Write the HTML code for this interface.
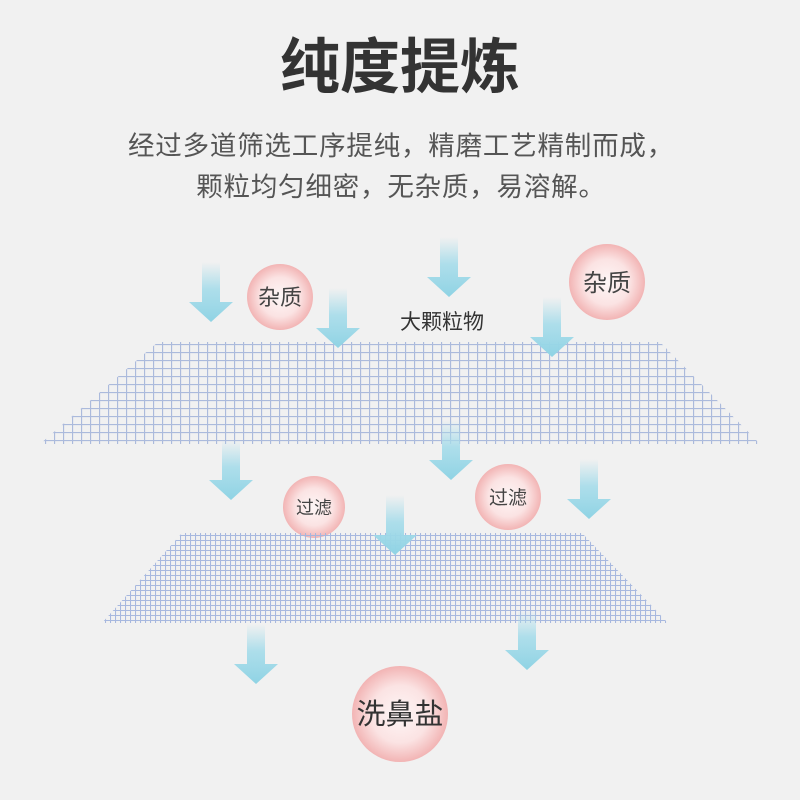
<!DOCTYPE html>
<html><head><meta charset="utf-8"><style>
html,body{margin:0;padding:0;background:#f1f1f1;}
svg{display:block}
text{font-family:"Liberation Sans","Noto Sans CJK SC",sans-serif;}
</style></head><body>
<svg width="800" height="800" viewBox="0 0 800 800" xmlns="http://www.w3.org/2000/svg">
<defs>
<linearGradient id="ag" x1="0" y1="0" x2="0" y2="1">
<stop offset="0" stop-color="#a6dcea" stop-opacity="0"/>
<stop offset="0.45" stop-color="#a6dcea" stop-opacity="0.9"/>
<stop offset="1" stop-color="#8fd3e4"/>
</linearGradient>
<radialGradient id="cg" cx="0.5" cy="0.5" r="0.5">
<stop offset="0" stop-color="#fdf6f6"/>
<stop offset="0.6" stop-color="#fbe3e3"/>
<stop offset="1" stop-color="#f2b4b4"/>
</radialGradient>
<pattern id="p1" width="9" height="8" patternUnits="userSpaceOnUse">
<path d="M0 0.5H9M0.5 0V8" stroke="#9fb0d8" stroke-width="1.3" fill="none"/>
</pattern>
<pattern id="p2" width="5" height="5" patternUnits="userSpaceOnUse">
<path d="M0 0.5H5M0.5 0V5" stroke="#a3b5de" stroke-width="1.1" fill="none"/>
</pattern>
<g id="arr"><path d="M-9 -60H9V-20H22L0 0L-22 -20H-9Z" fill="url(#ag)"/></g>
</defs>
<rect width="800" height="800" fill="#f1f1f1"/>
<text x="400" y="88" text-anchor="middle" font-size="60" font-weight="bold" fill="#333">纯度提炼</text>
<text x="401" y="155" text-anchor="middle" font-size="26.5" letter-spacing="0.8" fill="#555">经过多道筛选工序提纯，精磨工艺精制而成，</text>
<text x="401" y="196" text-anchor="middle" font-size="26.5" letter-spacing="0.8" fill="#555">颗粒均匀细密，无杂质，易溶解。</text>

<use href="#arr" x="211" y="322"/>
<use href="#arr" x="449" y="297"/>
<circle cx="280" cy="297" r="33" fill="url(#cg)"/>
<text x="280" y="305" text-anchor="middle" font-size="22" fill="#444">杂质</text>
<circle cx="607" cy="282" r="38" fill="url(#cg)"/>
<text x="607" y="291" text-anchor="middle" font-size="24" fill="#444">杂质</text>
<text x="442" y="329" text-anchor="middle" font-size="21" fill="#333">大颗粒物</text>

<polygon points="158,342 660,342 760,444 40,444" fill="url(#p1)" opacity="0.85"/>
<use href="#arr" x="338" y="348"/>
<use href="#arr" x="552" y="357"/>

<use href="#arr" x="231" y="500"/>
<use href="#arr" x="451" y="480"/>
<use href="#arr" x="589" y="519"/>
<circle cx="314" cy="507" r="31" fill="url(#cg)"/>
<text x="314" y="514" text-anchor="middle" font-size="18" fill="#444">过滤</text>
<circle cx="508" cy="497" r="33" fill="url(#cg)"/>
<text x="508" y="504" text-anchor="middle" font-size="19" fill="#444">过滤</text>

<polygon points="182,533 582,533 668,623 102,623" fill="url(#p2)" opacity="0.95"/>
<use href="#arr" x="395" y="555"/>

<use href="#arr" x="256" y="684"/>
<use href="#arr" x="527" y="670"/>
<circle cx="400" cy="714" r="48" fill="url(#cg)"/>
<text x="400" y="724" text-anchor="middle" font-size="29" fill="#333">洗鼻盐</text>
</svg>
</body></html>
